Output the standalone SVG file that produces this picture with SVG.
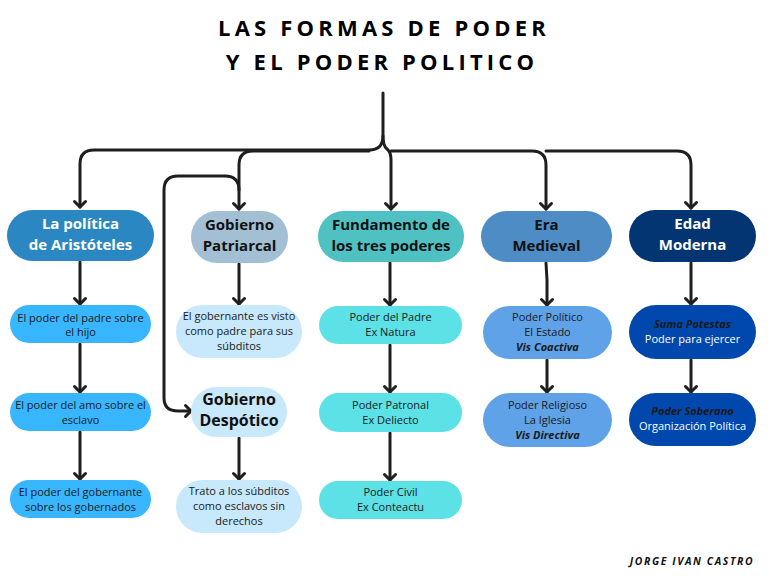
<svg xmlns="http://www.w3.org/2000/svg" width="768" height="576" viewBox="0 0 768 576">
<style>
text{font-family:"Open Sans","DejaVu Sans",sans-serif;text-anchor:middle}
.title{font-size:22px;font-weight:700;letter-spacing:4.2px;fill:#000}
.h{font-size:15px;font-weight:700}
.s{font-size:11px;fill:#1a1a1a}
.bi{font-weight:700;font-style:italic}
.w{fill:#fff}
.k{fill:#111}
.c{fill:none;stroke:#1e1e1e;stroke-width:3;stroke-linecap:round;stroke-linejoin:round}
</style>
<defs>
<marker id="ar" markerUnits="userSpaceOnUse" markerWidth="16" markerHeight="16" viewBox="-8 -8 16 16" refX="0" refY="0" orient="auto" overflow="visible">
<path d="M-5.5,-5.5 L0,0 L-5.5,5.5" fill="none" stroke="#1e1e1e" stroke-width="3" stroke-linecap="round" stroke-linejoin="round"/>
</marker>
</defs>
<rect width="768" height="576" fill="#fff"/>
<text class="title" x="384" y="36">LAS FORMAS DE PODER</text>
<text class="title" x="382" y="70">Y EL PODER POLITICO</text>

<g id="connectors">
<path class="c" d="M383,93 V136 Q383,150 369,150 H94 Q80,150 80,164 V207" marker-end="url(#ar)"/>
<path class="c" d="M369,151 H253 Q239,151 239,165 V209" marker-end="url(#ar)"/>
<path class="c" d="M239,190 Q239,176 225,176 H178 Q164,176 164,190 V398 Q164,411 178,411 H191" marker-end="url(#ar)"/>
<path class="c" d="M383,136 Q383,146 387,149 Q391,152 391,160 V209" marker-end="url(#ar)"/>
<path class="c" d="M391,151 H532 Q546,151 546,165 V209" marker-end="url(#ar)"/>
<path class="c" d="M546,151 H677 Q691,151 691,165 V208" marker-end="url(#ar)"/>
<path class="c" d="M80,262 V304" marker-end="url(#ar)"/>
<path class="c" d="M80,344 V392" marker-end="url(#ar)"/>
<path class="c" d="M80,432 V479" marker-end="url(#ar)"/>
<path class="c" d="M239,264 V304" marker-end="url(#ar)"/>
<path class="c" d="M239,438 V479" marker-end="url(#ar)"/>
<path class="c" d="M390,263 V305" marker-end="url(#ar)"/>
<path class="c" d="M390,345 V392" marker-end="url(#ar)"/>
<path class="c" d="M390,433 V480" marker-end="url(#ar)"/>
<path class="c" d="M546,263 L547,280 V305" marker-end="url(#ar)"/>
<path class="c" d="M547,360 V392" marker-end="url(#ar)"/>
<path class="c" d="M691,263 V304" marker-end="url(#ar)"/>
<path class="c" d="M691,360 V392" marker-end="url(#ar)"/>
</g>

<g id="n-aristoteles">
<rect x="7" y="210" width="147" height="51" rx="25.5" fill="#2b87c1"/>
<text class="h w" x="80.5" y="229">La política</text>
<text class="h w" x="80.5" y="250">de Aristóteles</text>
</g>
<g id="n-patriarcal">
<rect x="191" y="211" width="97" height="52" rx="26" fill="#a3bfd3"/>
<text class="h k" x="239.5" y="230">Gobierno</text>
<text class="h k" x="239.5" y="251">Patriarcal</text>
</g>
<g id="n-fundamento">
<rect x="318" y="211" width="146" height="51" rx="25.5" fill="#4fc1c3"/>
<text class="h k" x="391" y="230">Fundamento de</text>
<text class="h k" x="391" y="251">los tres poderes</text>
</g>
<g id="n-medieval">
<rect x="481" y="211" width="131" height="51" rx="25.5" fill="#4e8cc5"/>
<text class="h k" x="546.5" y="230">Era</text>
<text class="h k" x="546.5" y="251">Medieval</text>
</g>
<g id="n-moderna">
<rect x="629" y="210" width="127" height="52" rx="26" fill="#033573"/>
<text class="h w" x="692.5" y="229">Edad</text>
<text class="h w" x="692.5" y="250">Moderna</text>
</g>

<g id="n-padre-hijo">
<rect x="10" y="305" width="141" height="38" rx="19" fill="#38b6ff"/>
<text class="s" x="80.5" y="322">El poder del padre sobre</text>
<text class="s" x="80.5" y="336">el hijo</text>
</g>
<g id="n-amo-esclavo">
<rect x="10" y="393" width="141" height="38" rx="19" fill="#38b6ff"/>
<text class="s" x="80.5" y="409">El poder del amo sobre el</text>
<text class="s" x="80.5" y="424">esclavo</text>
</g>
<g id="n-gobernante">
<rect x="10" y="480" width="141" height="38" rx="19" fill="#38b6ff"/>
<text class="s" x="80.5" y="496">El poder del gobernante</text>
<text class="s" x="80.5" y="511">sobre los gobernados</text>
</g>

<g id="n-gobernante-padre">
<rect x="176" y="305" width="126" height="53" rx="26.5" fill="#c8e8fc"/>
<text class="s" x="239" y="320">El gobernante es visto</text>
<text class="s" x="239" y="335">como padre para sus</text>
<text class="s" x="239" y="350">súbditos</text>
</g>
<g id="n-despotico">
<rect x="191" y="387" width="96" height="50" rx="25" fill="#c8e8fc"/>
<text class="h k" x="239" y="405" style="font-size:16px">Gobierno</text>
<text class="h k" x="239" y="426" style="font-size:16px">Despótico</text>
</g>
<g id="n-trato">
<rect x="176" y="480" width="126" height="53" rx="26.5" fill="#c8e8fc"/>
<text class="s" x="239" y="495">Trato a los súbditos</text>
<text class="s" x="239" y="510">como esclavos sin</text>
<text class="s" x="239" y="525">derechos</text>
</g>

<g id="n-poder-padre">
<rect x="319" y="306" width="143" height="38" rx="19" fill="#5ce1e6"/>
<text class="s" x="390.5" y="321">Poder del Padre</text>
<text class="s" x="390.5" y="336">Ex Natura</text>
</g>
<g id="n-poder-patronal">
<rect x="319" y="393" width="143" height="39" rx="19.5" fill="#5ce1e6"/>
<text class="s" x="390.5" y="409">Poder Patronal</text>
<text class="s" x="390.5" y="424">Ex Deliecto</text>
</g>
<g id="n-poder-civil">
<rect x="319" y="481" width="143" height="38" rx="19" fill="#5ce1e6"/>
<text class="s" x="390.5" y="496">Poder Civil</text>
<text class="s" x="390.5" y="511">Ex Conteactu</text>
</g>

<g id="n-poder-politico">
<rect x="483" y="306" width="129" height="53" rx="26.5" fill="#5fa2e7"/>
<text class="s" x="547.5" y="321">Poder Político</text>
<text class="s" x="547.5" y="336">El Estado</text>
<text class="s bi" x="547.5" y="351">Vis Coactiva</text>
</g>
<g id="n-poder-religioso">
<rect x="483" y="393" width="129" height="54" rx="27" fill="#5fa2e7"/>
<text class="s" x="547.5" y="409">Poder Religioso</text>
<text class="s" x="547.5" y="424">La Iglesia</text>
<text class="s bi" x="547.5" y="439">Vis Directiva</text>
</g>

<g id="n-suma-potestas">
<rect x="629" y="305" width="127" height="54" rx="27" fill="#0048ad"/>
<text class="s bi" x="692.5" y="328">Suma Potestas</text>
<text class="s w" x="692.5" y="343">Poder para ejercer</text>
</g>
<g id="n-poder-soberano">
<rect x="629" y="393" width="127" height="53" rx="26.5" fill="#0048ad"/>
<text class="s bi" x="692.5" y="415">Poder Soberano</text>
<text class="s w" x="692.5" y="430">Organización Política</text>
</g>

<text x="692" y="565" style="font-size:10.4px;font-weight:700;font-style:italic;letter-spacing:1.6px;fill:#111">JORGE IVAN CASTRO</text>
</svg>
